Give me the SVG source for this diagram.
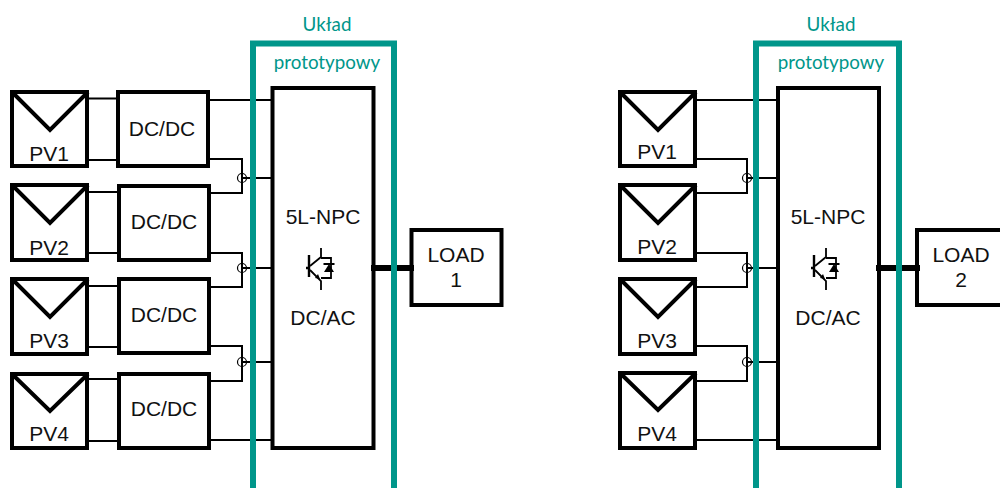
<svg xmlns="http://www.w3.org/2000/svg" width="1000" height="488" viewBox="0 0 1000 488">
<defs>
<style>
.box{fill:#fff;stroke:#000;stroke-width:4}
.v{fill:none;stroke:#000;stroke-width:4}
.w{fill:none;stroke:#000;stroke-width:2}
.bus{fill:none;stroke:#000;stroke-width:6}
.tl{fill:none;stroke:#00968a;stroke-width:6}
.j{fill:none;stroke:#000;stroke-width:1.2}
text{font-family:"Liberation Sans",Arial,sans-serif;font-size:21px;fill:#111;text-anchor:middle}
.t{font-family:Lato,"Open Sans",sans-serif;font-size:18.800px;fill:#00968a}
</style>
<g id="igbt">
<path d="M309 255V277M306 268H309" fill="none" stroke="#000" stroke-width="2.4"/>
<path d="M310 266L321 257V248M310 270L321 281V290M321 258H331V278H321M323.500 264H334.500" fill="none" stroke="#000" stroke-width="1.8"/>
<path d="M329 264L334 272H324ZM320 279L315 278L318 274Z" fill="#000"/>
</g>
</defs>
<g id="pv1-a"><rect class="box" x="12" y="92" width="75" height="74"/><path class="v" d="M12 92L50 130L88 92"/><text x="49" y="161">PV1</text></g>
<g id="pv2-a"><rect class="box" x="12" y="185" width="75" height="75"/><path class="v" d="M12 185L50 223L88 185"/><text x="49" y="255">PV2</text></g>
<g id="pv3-a"><rect class="box" x="12" y="279" width="75" height="75"/><path class="v" d="M12 279L50 317L88 279"/><text x="49" y="348">PV3</text></g>
<g id="pv4-a"><rect class="box" x="12" y="374" width="75" height="74"/><path class="v" d="M12 374L50 411L88 374"/><text x="49" y="441">PV4</text></g>
<g id="dc1"><rect class="box" x="118" y="92" width="90" height="74"/><text x="162" y="136">DC/DC</text></g>
<g id="dc2"><rect class="box" x="119" y="186" width="90" height="74"/><text x="164" y="229">DC/DC</text></g>
<g id="dc3"><rect class="box" x="119" y="279" width="90" height="74"/><text x="164" y="322">DC/DC</text></g>
<g id="dc4"><rect class="box" x="119" y="374" width="90" height="74"/><text x="164" y="416">DC/DC</text></g>
<g id="inverter-a"><rect class="box" x="272.500" y="88" width="101" height="360"/><text x="323" y="224">5L-NPC</text><use href="#igbt"/><text x="323" y="325">DC/AC</text></g>
<g id="load1"><rect class="box" x="411.500" y="230" width="90" height="75"/><text x="456" y="262">LOAD</text><text x="456" y="287">1</text></g>
<g id="pv1-b"><rect class="box" x="620" y="92" width="75" height="74"/><path class="v" d="M620 92L658 130L696 92"/><text x="657" y="159">PV1</text></g>
<g id="pv2-b"><rect class="box" x="620" y="185" width="75" height="75"/><path class="v" d="M620 185L658 223L696 185"/><text x="657" y="254">PV2</text></g>
<g id="pv3-b"><rect class="box" x="620" y="279" width="75" height="75"/><path class="v" d="M620 279L658 317L696 279"/><text x="657" y="348">PV3</text></g>
<g id="pv4-b"><rect class="box" x="620" y="373" width="75" height="75"/><path class="v" d="M620 373L658 410L696 373"/><text x="657" y="441">PV4</text></g>
<g id="inverter-b"><rect class="box" x="778" y="88" width="101" height="360"/><text x="828" y="224">5L-NPC</text><use href="#igbt" x="505"/><text x="828" y="325">DC/AC</text></g>
<g id="load2"><rect class="box" x="917" y="230" width="90" height="75"/><text x="961" y="262">LOAD</text><text x="961" y="287">2</text></g>
<g id="connectors">
<path class="w" d="M88 98.500H118M88 160H118M88 192H118M88 253H118M88 286H118M88 347H118M88 379H118M88 441H118"/>
<path class="w" d="M208 100H273M208 159H242V193H208M242 178H273M208 253H242V287H208M242 268H273M208 346H242V381H208M242 362H273M208 440H273"/>
<circle class="j" cx="242" cy="178" r="4.500"/><circle class="j" cx="242" cy="268" r="4.500"/><circle class="j" cx="242" cy="362" r="4.500"/>
<path class="bus" d="M371 268H414"/>
<path class="w" d="M696 100H778M696 159H747V193H696M747 178H778M696 253H747V287H696M747 268H778M696 346H747V381H696M747 362H778M696 440H778"/>
<circle class="j" cx="747" cy="178" r="4.500"/><circle class="j" cx="747" cy="268" r="4.500"/><circle class="j" cx="747" cy="362" r="4.500"/>
<path class="bus" d="M876 268H920"/>
</g>
<g id="proto-a"><path class="tl" d="M253 488V43.500H394V488"/><text class="t" x="327" y="31">Układ</text><text class="t" x="327" y="69">prototypowy</text></g>
<g id="proto-b"><path class="tl" d="M756 488V43.500H899V488"/><text class="t" x="831" y="31">Układ</text><text class="t" x="831" y="69">prototypowy</text></g>
</svg>
